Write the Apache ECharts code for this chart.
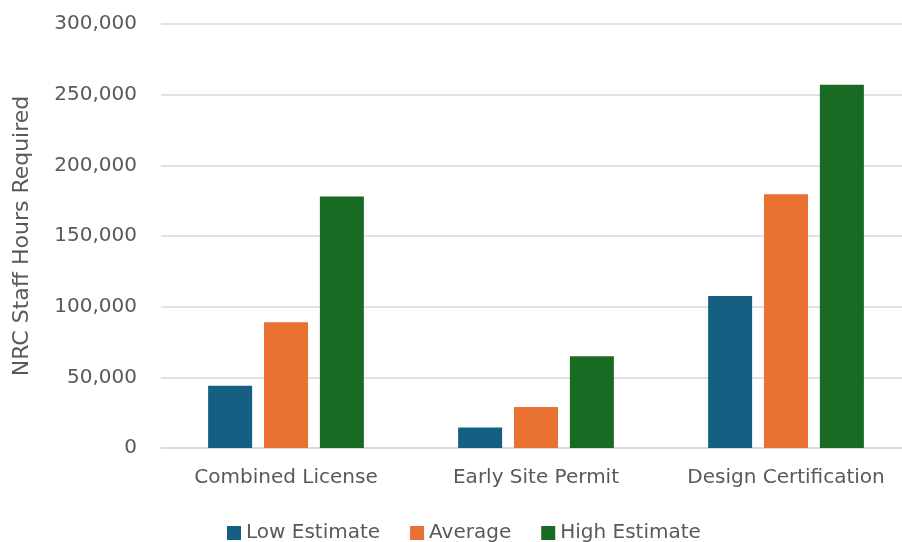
<!DOCTYPE html>
<html>
<head>
<meta charset="utf-8">
<script src="https://cdn.jsdelivr.net/npm/echarts@6/dist/echarts.min.js"></script>
<style>
html,body{margin:0;padding:0;background:#fff;}
#c{width:902px;height:542px;}
</style>
</head>
<body>
<div id="c"></div>
<script>
const categories = ["Combined License", "Early Site Permit", "Design Certification"];
const lowEstimate = [44000, 14500, 107500];
const averageVals = [89000, 29000, 179500];
const highEstimate = [178000, 65000, 257000];
const yTicks = [0, 50000, 100000, 150000, 200000, 250000, 300000];

const font = "DejaVu Sans";
const txt = "#595959";
const chart = echarts.init(document.getElementById('c'));
chart.setOption({
  animation: false,
  textStyle: { fontFamily: font },
  grid: { left: 161, top: 24, width: 750, height: 424, containLabel: false, outerBoundsMode: 'none' },
  legend: {
    left: 222, top: 518,
    itemWidth: 14, itemHeight: 14, itemGap: 30,
    icon: 'rect',
    textStyle: { fontFamily: font, fontSize: 20, color: txt },
    data: ["Low Estimate", "Average", "High Estimate"]
  },
  xAxis: {
    type: 'category',
    data: categories,
    axisLine: { lineStyle: { color: '#d9d9d9', width: 1.5 } },
    axisTick: { show: false },
    axisLabel: { fontFamily: font, fontSize: 20, color: txt, margin: 20, interval: 0, hideOverlap: false }
  },
  yAxis: {
    type: 'value',
    min: yTicks[0], max: yTicks[yTicks.length - 1], interval: 50000,
    name: 'NRC Staff Hours Required',
    nameLocation: 'middle',
    nameGap: 128,
    nameTextStyle: { fontFamily: font, fontSize: 22, color: txt },
    axisLine: { show: false },
    axisTick: { show: false },
    splitLine: { lineStyle: { color: '#d9d9d9', width: 1.5 } },
    axisLabel: {
      fontFamily: font, fontSize: 20, color: txt, margin: 24,
      formatter: v => v.toLocaleString('en-US')
    }
  },
  series: [
    { name: 'Low Estimate', type: 'bar', data: lowEstimate, barWidth: 44, barGap: '27%', itemStyle: { color: '#156082' } },
    { name: 'Average', type: 'bar', data: averageVals, barWidth: 44, barGap: '27%', itemStyle: { color: '#E97132' } },
    { name: 'High Estimate', type: 'bar', data: highEstimate, barWidth: 44, barGap: '27%', itemStyle: { color: '#196B24' } }
  ]
});
</script>
</body>
</html>
